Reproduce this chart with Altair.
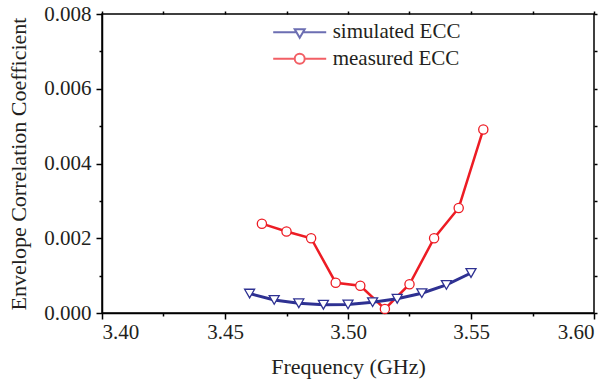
import altair as alt
import pandas as pd

# ---- data ----
sim_freq = [3.46, 3.47, 3.48, 3.49, 3.50, 3.51, 3.52, 3.53, 3.54, 3.55]
sim_ecc = [0.00052, 0.00035, 0.00026, 0.00022, 0.00023, 0.00029, 0.00038, 0.00053, 0.00075, 0.00107]
meas_freq = [3.465, 3.475, 3.485, 3.495, 3.505, 3.515, 3.525, 3.535, 3.545, 3.555]
meas_ecc = [0.00239, 0.00218, 0.00200, 0.00081, 0.00073, 0.00011, 0.00077, 0.00200, 0.00281, 0.00491]
series_names = ["simulated ECC", "measured ECC"]
x_ticks = [3.40, 3.425, 3.45, 3.475, 3.50, 3.525, 3.55, 3.575, 3.60]
y_ticks = [0.000, 0.001, 0.002, 0.003, 0.004, 0.005, 0.006, 0.007, 0.008]

BLUE = "#2e3192"
RED = "#ed1c24"
TXT = "#231f20"
FONT = "Liberation Serif"

sim_df = pd.DataFrame({"freq": sim_freq, "ecc": sim_ecc, "series": series_names[0]})
meas_df = pd.DataFrame({"freq": meas_freq, "ecc": meas_ecc, "series": series_names[1]})
all_df = pd.concat([sim_df, meas_df], ignore_index=True)

xscale = alt.Scale(domain=[3.40, 3.60], nice=False, zero=False)
yscale = alt.Scale(domain=[0, 0.008], nice=False)

x_major = "abs(datum.value*20 - round(datum.value*20)) < 0.001"
y_major = "round(datum.value*1000) % 2 == 0"

x_axis = alt.Axis(values=x_ticks, format=".2f", title="Frequency (GHz)",
                  labelExpr=f"({x_major}) ? datum.label : ''",
                  tickSize={"condition": {"test": x_major, "value": 6}, "value": 3},
                  labelPadding=2, titlePadding=14, grid=False, orient="bottom")
y_axis = alt.Axis(values=y_ticks, format=".3f", title="Envelope Correlation Coefficient",
                  labelExpr=f"({y_major}) ? datum.label : ''",
                  tickSize={"condition": {"test": y_major, "value": 6}, "value": 3},
                  labelPadding=5, titlePadding=13, grid=False, orient="left")
x_top = alt.Axis(values=x_ticks, labels=False, title=None, tickSize=3, domain=False,
                 grid=False, orient="top")
y_right = alt.Axis(values=y_ticks, labels=False, title=None, tickSize=3, domain=False,
                   grid=False, orient="right")

red_line = alt.Chart(meas_df).mark_line(color=RED, strokeWidth=2.5).encode(
    x=alt.X("freq:Q", scale=xscale, axis=x_axis),
    y=alt.Y("ecc:Q", scale=yscale, axis=y_axis),
)
red_pts = alt.Chart(meas_df).mark_point(shape="circle", size=85, filled=True, fill="white",
                                        stroke=RED, strokeWidth=1.3, opacity=1).encode(
    x=alt.X("freq:Q", scale=xscale, axis=None),
    y=alt.Y("ecc:Q", scale=yscale, axis=None),
)
blue_line = alt.Chart(sim_df).mark_line(color=BLUE, strokeWidth=3).encode(
    x=alt.X("freq:Q", scale=xscale, axis=x_top),
    y=alt.Y("ecc:Q", scale=yscale, axis=y_right),
)
blue_pts = alt.Chart(sim_df).mark_point(shape="triangle-down", size=100, filled=True, fill="white",
                                        stroke=BLUE, strokeWidth=1.3, opacity=1).encode(
    x=alt.X("freq:Q", scale=xscale, axis=None),
    y=alt.Y("ecc:Q", scale=yscale, axis=None),
)

tri_path = "M-2.65,0H-0.32M0.32,0H2.65M-0.5,-0.3L0.5,-0.3L0,0.55Z"
circ_path = "M-2.65,0H-0.5M0.5,0H2.65M-0.5,0A0.5,0.5 0 1,0 0.5,0A0.5,0.5 0 1,0 -0.5,0Z"

leg = alt.Legend(title=None, orient="none", legendX=186.7, legendY=7.2, padding=0,
                 symbolSize=400, symbolFillColor="white", symbolStrokeWidth=2,
                 labelFont=FONT, labelFontSize=21, labelColor=TXT, labelOffset=22,
                 rowPadding=5.6, labelLimit=300)

legend_carrier = alt.Chart(all_df).mark_point(filled=True, fill="white", clip=True, size=10).encode(
    x=alt.X("freq:Q", scale=xscale, axis=None),
    y=alt.value(-300),
    shape=alt.Shape("series:N", scale=alt.Scale(domain=series_names, range=[tri_path, circ_path]), legend=leg),
    stroke=alt.Stroke("series:N", scale=alt.Scale(domain=series_names, range=[BLUE, RED]), legend=leg),
)

chart = alt.layer(red_line, red_pts, blue_line, blue_pts, legend_carrier).resolve_axis(
    x="independent", y="independent"
).properties(
    width=492, height=299,
    background="white",
    autosize=alt.AutoSizeParams(type="none"),
    padding={"left": 102, "top": 14, "right": 19, "bottom": 68},
).configure_view(
    stroke="black", strokeWidth=1.5
).configure_axis(
    domainColor="black", domainWidth=1.5, tickColor="black", tickWidth=1.5,
    labelFont=FONT, labelFontSize=21, labelColor=TXT,
    titleFont=FONT, titleFontSize=22, titleColor=TXT, titleFontWeight="normal",
)

chart.save("out.html", embed_options={"renderer": "svg", "actions": False})
